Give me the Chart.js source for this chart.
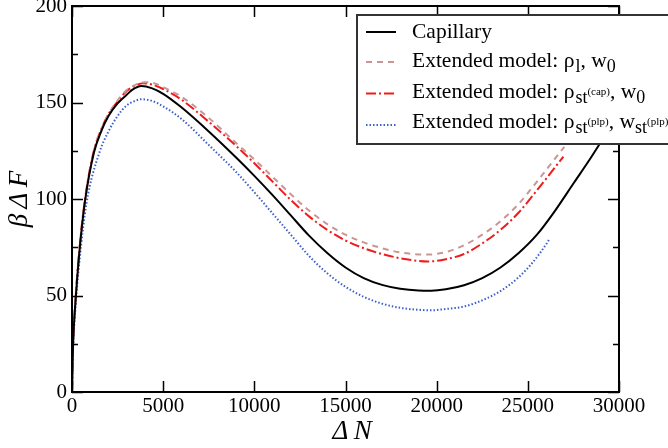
<!DOCTYPE html>
<html><head><meta charset="utf-8">
<script src="https://cdn.jsdelivr.net/npm/chart.js@4/dist/chart.umd.min.js"></script>
<style>html,body{margin:0;padding:0;background:#fff;}#wrap{width:668px;height:448px;}</style>
</head><body><div id="wrap"><canvas id="c" width="668" height="448"></canvas></div>
<script>
// ---- data ----
const capN = [0,50,200,400,700,1200,1600,2000,2500,3000,3300,3800,4400,5000,6000,7500,9000,10000,11000,12000,13000,14000,15000,16000,17000,18000,19000,19700,20500,21500,22500,23500,24500,25500,26500,27500,28500,29500,30000];
const capV = [0,22,48,72,98,124,135,143,149.5,154,156.5,158.5,157.3,154.5,147.5,135,121.5,112,102,91.5,81,72,64.5,59,55.5,53.5,52.6,52.5,53.2,55.3,59,64.5,72,81.5,94,108,122,137,145];

const rholN = [0,50,200,400,700,1200,1600,2000,2500,3000,3500,4000,4500,5000,6000,7500,9000,10000,11000,12000,13000,14000,15000,16000,17000,18000,19000,19500,20500,21500,22500,23500,24500,25500,26500,27000];
const rholV = [0,22,49,73,99,125,136,144,151,156.5,159.3,160.5,160,158,153,142,129,120.5,111.5,102.5,94,87,81.5,77.5,74.5,72.3,71.3,71.2,72.5,76,81.5,88.5,97.5,109,121,127];

const capRhoN = [0,50,200,400,700,1200,1600,2000,2500,3000,3400,3900,4500,5000,6000,7500,9000,10000,11000,12000,13000,14000,15000,16000,17000,18000,19000,19500,20500,21500,22500,23500,24500,25500,26500,26950];
const capRhoV = [0,22,49,73,99,125,136,144,150.5,156,158.4,160,159,157,151.5,140,127.5,118.5,109,99.5,91,84,78.5,74.5,71.5,69.3,67.9,67.6,68.8,71.5,77,84,93,104.5,116.5,122];

const plpN = [0,50,200,400,800,1500,2000,2500,3000,3400,3800,4400,5000,6000,7500,9000,10000,11000,12000,13000,14000,15000,16000,17000,18000,19000,19600,20500,21500,22500,23500,24500,25300,26000,26200];
const plpV = [0,20,45,67,98,124,135,143,148.5,150.6,151.7,150.8,148,141.5,128,114,103.5,92.5,81.5,70.5,61.5,54.5,49.3,45.8,43.6,42.6,42.3,43,44.3,47.5,52.3,59.5,67.5,76.5,79.5];

const xTicks = [0,5000,10000,15000,20000,25000,30000];
const yTicks = [0,50,100,150,200];
const yMinor = [25,75,125,175];
const seriesNames = ['Capillary','Extended model: ρl, w0','Extended model: ρst(cap), w0','Extended model: ρst(plp), wst(plp)'];

const pts = (xs, ys) => xs.map((x, i) => ({x: x, y: ys[i]}));
const SERIF = "'Liberation Serif','Times New Roman',serif";

const tickPlugin = {
  id: 'frameTicks',
  afterDatasetsDraw(chart) {
    const {ctx, chartArea: a, scales: {x, y}} = chart;
    ctx.save();
    ctx.strokeStyle = '#000';
    ctx.lineWidth = 2;
    ctx.beginPath();
    ctx.rect(a.left, a.top, a.right - a.left, a.bottom - a.top);
    ctx.stroke();
    ctx.lineWidth = 1.5;
    ctx.beginPath();
    const MJ = 11, MN = 6;
    xTicks.forEach(v => {
      const p = Math.round(x.getPixelForValue(v)) + 0.5;
      ctx.moveTo(p, a.bottom); ctx.lineTo(p, a.bottom - MJ);
      ctx.moveTo(p, a.top); ctx.lineTo(p, a.top + MJ);
    });
    yTicks.forEach(v => {
      const p = Math.round(y.getPixelForValue(v)) + 0.5;
      ctx.moveTo(a.left, p); ctx.lineTo(a.left + MJ, p);
      ctx.moveTo(a.right, p); ctx.lineTo(a.right - MJ, p);
    });
    yMinor.forEach(v => {
      const p = Math.round(y.getPixelForValue(v)) + 0.5;
      ctx.moveTo(a.left, p); ctx.lineTo(a.left + MN, p);
      ctx.moveTo(a.right, p); ctx.lineTo(a.right - MN, p);
    });
    ctx.stroke();
    ctx.restore();
  },
  afterDraw(chart) {
    const ctx = chart.ctx;
    const ds = chart.data.datasets;
    ctx.save();
    // legend box
    ctx.fillStyle = '#fff';
    ctx.fillRect(357, 15, 340, 129);
    ctx.strokeStyle = '#333';
    ctx.lineWidth = 2;
    ctx.strokeRect(357, 15, 340, 129);
    const sampleY = [32, 62, 93.5, 125];
    const baseY = [38, 67, 97.5, 128];
    const big = 21.5, sub = 18, tiny = 11;
    const rows = [
      [[seriesNames[0], big, 0, 0]],
      [['Extended model: ρ', big, 0, 0], ['l', sub, 5, 1], [', w', big, 0, 0], ['0', sub, 5, 0]],
      [['Extended model: ρ', big, 0, 0], ['st', sub, 5, 1], ['(cap)', tiny, -3, 0], [', w', big, 0, 0], ['0', sub, 5, 0]],
      [['Extended model: ρ', big, 0, 0], ['st', sub, 5, 1], ['(plp)', tiny, -3, 0], [', w', big, 0, 0], ['st', sub, 5, 0], ['(plp)', tiny, -3, 0]]
    ];
    ds.forEach((d, i) => {
      ctx.strokeStyle = d.borderColor;
      ctx.lineWidth = d.borderWidth;
      ctx.setLineDash(d.borderDash || []);
      ctx.beginPath();
      ctx.moveTo(366, sampleY[i]); ctx.lineTo(396, sampleY[i]);
      ctx.stroke();
    });
    ctx.setLineDash([]);
    ctx.fillStyle = '#000';
    ctx.textBaseline = 'alphabetic';
    ctx.textAlign = 'left';
    rows.forEach((r, i) => {
      let xx = 412;
      r.forEach(([t, s, dy, gap]) => {
        xx += gap;
        ctx.font = s + 'px ' + SERIF;
        ctx.fillText(t, xx, baseY[i] + dy);
        xx += ctx.measureText(t).width;
      });
    });
    ctx.restore();
  }
};

new Chart(document.getElementById('c'), {
  type: 'line',
  data: {
    datasets: [
      {label: seriesNames[0], data: pts(capN, capV), borderColor: '#000000', borderWidth: 2, borderDash: []},
      {label: seriesNames[1], data: pts(rholN, rholV), borderColor: '#c99696', borderWidth: 2, borderDash: [6, 5]},
      {label: seriesNames[2], data: pts(capRhoN, capRhoV), borderColor: '#ee1c1c', borderWidth: 2, borderDash: [10, 3, 2, 3]},
      {label: seriesNames[3], data: pts(plpN, plpV), borderColor: '#3c5fc8', borderWidth: 2, borderDash: [1.5, 2]}
    ]
  },
  options: {
    responsive: false,
    animation: false,
    devicePixelRatio: 1,
    elements: {point: {radius: 0}, line: {cubicInterpolationMode: 'monotone', fill: false}},
    layout: {padding: {left: 0, right: 49, top: 6, bottom: 0}},
    plugins: {legend: {display: false}, tooltip: {enabled: false}},
    scales: {
      x: {
        type: 'linear', min: 0, max: 30000,
        afterBuildTicks: s => { s.ticks = xTicks.map(v => ({value: v})); },
        afterFit: s => { s.height = 56; s.paddingLeft = 0; s.paddingRight = 0; },
        grid: {display: false, drawTicks: false},
        border: {display: false},
        ticks: {padding: 2, maxRotation: 0, autoSkip: false, color: '#000', font: {family: SERIF, size: 21}, callback: v => String(v)},
        title: {display: true, text: '\u2002Δ\u2009N', color: '#000', padding: {top: 0, bottom: 0}, font: {family: SERIF, size: 27, style: 'italic'}}
      },
      y: {
        type: 'linear', min: 0, max: 200,
        afterBuildTicks: s => { s.ticks = yTicks.map(v => ({value: v})); },
        afterFit: s => { s.width = 72; s.paddingTop = 0; s.paddingBottom = 0; },
        grid: {display: false, drawTicks: false},
        border: {display: false},
        ticks: {padding: 5, autoSkip: false, color: '#000', font: {family: SERIF, size: 21}, callback: v => String(v)},
        title: {display: true, text: 'β\u2009Δ\u2009F', color: '#000', padding: {top: 4, bottom: 0}, font: {family: SERIF, size: 27, style: 'italic'}}
      }
    }
  },
  plugins: [tickPlugin]
});
</script>
</body></html>
